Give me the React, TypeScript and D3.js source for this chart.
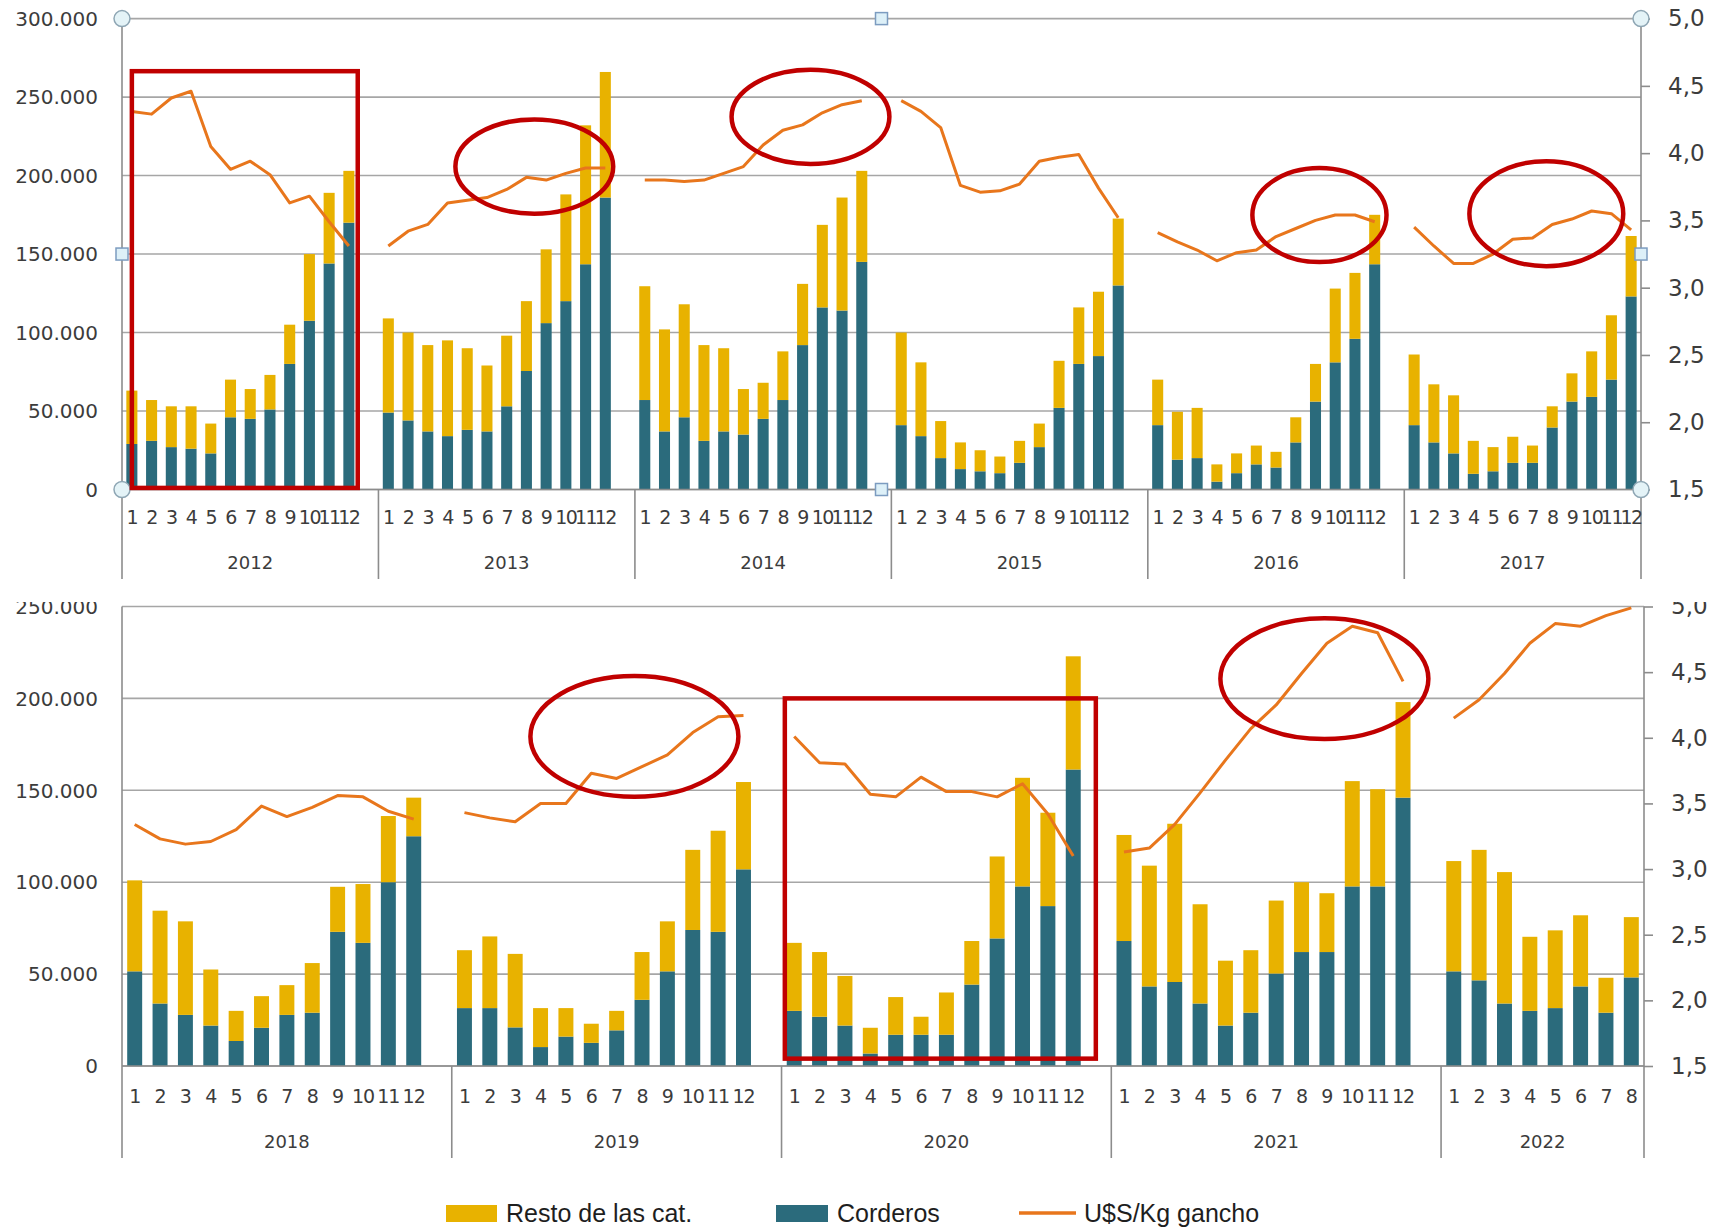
import React, { useEffect, useRef } from 'react';
import * as d3 from 'd3';

// Faena mensual de ovinos (cabezas) y precio U$S/Kg gancho

const topYears = ['2012', '2013', '2014', '2015', '2016', '2017'];
const bottomYears = ['2018', '2019', '2020', '2021', '2022'];
const topLastMonths = 12;
const bottomLastMonths = 8;

const corderosTop = [
  29000, 31000, 27000, 26000, 23000, 46000, 45000, 51000, 80000, 107500, 144000, 170000, // 2012
  49000, 44000, 37000, 34000, 38000, 37000, 53000, 75500, 106000, 120000, 143500, 186000, // 2013
  57000, 37000, 46000, 31000, 37000, 35000, 45000, 57000, 92000, 116000, 114000, 145000, // 2014
  41000, 34000, 20000, 13000, 11600, 10400, 17000, 27000, 52000, 80000, 85000, 130000, // 2015
  41000, 19000, 20000, 5000, 10400, 16000, 14000, 30000, 56000, 81000, 96000, 143500, // 2016
  41000, 30000, 23000, 10000, 11600, 17000, 17000, 39500, 56000, 59000, 70000, 123000, // 2017
];

const restoTop = [
  34000, 26000, 26000, 27000, 19000, 24000, 19000, 22000, 25000, 42500, 45000, 33000,
  60000, 56000, 55000, 61000, 52000, 42000, 45000, 44500, 47000, 68000, 88500, 80000,
  72500, 65000, 72000, 61000, 53000, 29000, 23000, 31000, 39000, 52600, 72000, 58000,
  59000, 47000, 23600, 17000, 13400, 10600, 14000, 15000, 30000, 36000, 41000, 42600,
  29000, 30500, 32000, 11000, 12600, 12000, 10000, 16000, 24000, 47000, 42000, 31500,
  45000, 37000, 37000, 21000, 15400, 16600, 11000, 13500, 18000, 29000, 41000, 38500,
];

const priceTop = [
  4.31, 4.29, 4.41, 4.46, 4.05, 3.88, 3.94, 3.84, 3.63, 3.68, 3.49, 3.31,
  3.31, 3.42, 3.47, 3.63, 3.65, 3.67, 3.73, 3.82, 3.80, 3.85, 3.89, 3.89,
  3.80, 3.80, 3.79, 3.80, 3.85, 3.90, 4.06, 4.17, 4.21, 4.30, 4.36, 4.39,
  4.39, 4.31, 4.19, 3.76, 3.71, 3.72, 3.77, 3.94, 3.97, 3.99, 3.74, 3.52,
  3.41, 3.34, 3.28, 3.20, 3.26, 3.28, 3.38, 3.44, 3.50, 3.54, 3.54, 3.49,
  3.45, 3.31, 3.18, 3.18, 3.25, 3.36, 3.37, 3.47, 3.51, 3.57, 3.55, 3.43,
];

const corderosBottom = [
  51500, 34000, 27800, 22000, 13600, 20800, 27800, 29000, 73000, 67000, 100000, 125000, // 2018
  31500, 31500, 21000, 10300, 16000, 12600, 19400, 36000, 51500, 74000, 73000, 107000, // 2019
  30000, 26800, 22000, 6800, 17000, 17000, 17000, 44300, 69400, 97700, 87000, 161300, // 2020
  68000, 43300, 45700, 34000, 22000, 29000, 50300, 62000, 62000, 97700, 97700, 146000, // 2021
  51500, 46600, 34000, 30000, 31500, 43300, 29000, 48200, // 2022
];

const restoBottom = [
  49500, 50500, 50900, 30500, 16400, 17200, 16200, 27000, 24500, 32000, 36000, 21000,
  31500, 39000, 40000, 21200, 15500, 10400, 10600, 26000, 27200, 43600, 55000, 47500,
  37000, 35200, 27000, 14000, 20500, 9800, 23000, 23700, 44600, 59100, 50800, 61600,
  57700, 65700, 86100, 54000, 35300, 34000, 39700, 38000, 32000, 57300, 52900, 52000,
  60000, 71000, 71500, 40300, 42300, 38700, 19000, 32800,
];

const priceBottom = [
  3.34, 3.23, 3.19, 3.21, 3.30, 3.48, 3.40, 3.47, 3.56, 3.55, 3.44, 3.38,
  3.43, 3.39, 3.36, 3.50, 3.50, 3.73, 3.69, 3.78, 3.87, 4.04, 4.16, 4.17,
  4.01, 3.81, 3.80, 3.57, 3.55, 3.70, 3.59, 3.59, 3.55, 3.65, 3.42, 3.10,
  3.13, 3.16, 3.34, 3.58, 3.83, 4.07, 4.25, 4.49, 4.72, 4.85, 4.80, 4.43,
  4.15, 4.29, 4.49, 4.72, 4.87, 4.85, 4.93, 4.99,
];

const leftTicksTop = [0, 50000, 100000, 150000, 200000, 250000, 300000];
const leftTicksBottom = [0, 50000, 100000, 150000, 200000, 250000];
const rightTicks = [1.5, 2.0, 2.5, 3.0, 3.5, 4.0, 4.5, 5.0];

const legendLabels = ['Resto de las cat.', 'Corderos', 'U$S/Kg gancho'];

// red marks drawn over the chart (month position, price / head count)
const topEllipses = [
  { year: '2013', month: 8.4, price: 3.9, rx: 4.0, ry: 0.35 },
  { year: '2014', month: 9.4, price: 4.27, rx: 4.0, ry: 0.35 },
  { year: '2016', month: 9.2, price: 3.54, rx: 3.4, ry: 0.35 },
  { year: '2017', month: 7.7, price: 3.55, rx: 3.9, ry: 0.39 },
];
const topBoxes = [{ year: '2012', from: 1.0, to: 12.45, hi: 266500, lo: 1000 }];
const bottomEllipses = [
  { year: '2019', month: 7.7, price: 4.01, rx: 4.1, ry: 0.46 },
  { year: '2021', month: 8.9, price: 4.45, rx: 4.1, ry: 0.46 },
];
const bottomBoxes = [{ year: '2020', from: 0.63, to: 12.89, hi: 200000, lo: 4000 }];

const GOLD = '#E8B200';
const TEAL = '#2B6B7C';
const ORANGE = '#E8761C';
const RED = '#C00000';
const GRID = '#A6A6A6';
const AXIS = '#8C8C8C';
const TXT = '#3C3C3C';
const FONT = "'DejaVu Sans', Verdana, sans-serif";

const fmtLeft = d3.formatLocale({ decimal: ',', thousands: '.', grouping: [3], currency: ['', ''] }).format(',');
const fmtRight = (v: number) => d3.format('.1f')(v).replace('.', ',');

type Panel = {
  id: string;
  years: string[];
  lastMonths: number;
  corderos: number[];
  resto: number[];
  price: number[];
  leftTicks: number[];
  left: number; right: number; top: number; bottom: number;
  monthY: number; yearY: number; sepBottom: number;
  barFrac: number;
  monthSpacing: number;
  clipTop?: number;
  handles?: boolean;
  ellipses: typeof topEllipses;
  boxes: typeof topBoxes;
};

function drawPanel(svg: d3.Selection<SVGSVGElement, unknown, null, undefined>, p: Panel) {
  const g = svg.append('g');
  if (p.clipTop !== undefined) {
    svg.append('defs').append('clipPath').attr('id', `clip-${p.id}`)
      .append('rect').attr('x', 0).attr('y', p.clipTop).attr('width', 1713).attr('height', 1228 - p.clipTop);
    g.attr('clip-path', `url(#clip-${p.id})`);
  }

  // slots: 12 months + one empty slot after every year except the last
  const slots: string[] = [];
  const rows: { key: string; year: string; month: number; corderos: number; resto: number; price: number }[] = [];
  let k = 0;
  p.years.forEach((yr, i) => {
    const last = i === p.years.length - 1;
    const n = last ? p.lastMonths : 12;
    for (let m = 1; m <= n; m++) {
      const key = `${yr}-${m}`;
      slots.push(key);
      rows.push({ key, year: yr, month: m, corderos: p.corderos[k], resto: p.resto[k], price: p.price[k] });
      k++;
    }
    if (!last) slots.push(`${yr}-gap`);
  });

  const x = d3.scaleBand().domain(slots).range([p.left, p.right]).padding(0);
  const yL = d3.scaleLinear().domain([0, p.leftTicks[p.leftTicks.length - 1]]).range([p.bottom, p.top]);
  const yR = d3.scaleLinear().domain([1.5, 5]).range([p.bottom, p.top]);
  const step = x.step();
  const xAt = (year: string, month: number) => (x(`${year}-1`) as number) + (month - 0.5) * step;

  // gridlines
  g.selectAll('line.grid').data(p.leftTicks).join('line')
    .attr('x1', p.left).attr('x2', p.right)
    .attr('y1', d => yL(d)).attr('y2', d => yL(d))
    .attr('stroke', GRID).attr('stroke-width', 1.6);

  // left labels
  g.selectAll('text.left').data(p.leftTicks).join('text')
    .attr('x', p.left - 24).attr('y', d => yL(d)).attr('dy', '0.36em')
    .attr('text-anchor', 'end').attr('font-family', FONT).attr('font-size', 20).attr('fill', TXT)
    .text(d => fmtLeft(d));

  // right axis
  const ra = g.append('g').attr('transform', `translate(${p.right},0)`)
    .call(d3.axisRight(yR).tickValues(rightTicks).tickSize(9).tickSizeOuter(0).tickPadding(18).tickFormat(d => fmtRight(d as number)));
  ra.select('.domain').remove();
  ra.selectAll('.tick line').attr('stroke', AXIS).attr('stroke-width', 1.6);
  ra.selectAll('.tick text').attr('font-family', FONT).attr('font-size', 23).attr('fill', TXT);

  // stacked bars
  const stack = d3.stack<any>().keys(['corderos', 'resto'])(rows);
  const bw = step * p.barFrac;
  g.selectAll('g.layer').data(stack).join('g')
    .attr('fill', (_d, i) => (i === 0 ? TEAL : GOLD))
    .selectAll('rect').data(d => d).join('rect')
    .attr('x', d => (x(d.data.key) as number) + (step - bw) / 2)
    .attr('y', d => yL(d[1]))
    .attr('width', bw)
    .attr('height', d => yL(d[0]) - yL(d[1]));

  // axis lines and year separators
  g.append('line').attr('x1', p.left).attr('x2', p.right).attr('y1', p.bottom).attr('y2', p.bottom)
    .attr('stroke', AXIS).attr('stroke-width', 1.6);
  const bounds = p.years.map(yr => x(`${yr}-1`) as number).concat([p.right]);
  g.selectAll('line.sep').data(bounds).join('line')
    .attr('x1', d => d).attr('x2', d => d)
    .attr('y1', (_d, i) => (i === 0 || i === bounds.length - 1 ? p.top : p.bottom))
    .attr('y2', p.sepBottom)
    .attr('stroke', AXIS).attr('stroke-width', 1.6);

  // price line, broken between years
  const lineData = slots.map(s => rows.find(r => r.key === s) || null);
  const line = d3.line<any>()
    .defined(d => d !== null)
    .x(d => (x(d.key) as number) + step / 2)
    .y(d => yR(d.price));
  g.append('path').datum(lineData)
    .attr('fill', 'none').attr('stroke', ORANGE).attr('stroke-width', 3).attr('stroke-linejoin', 'round')
    .attr('d', line);

  // month and year labels
  g.selectAll('text.month').data(rows).join('text')
    .attr('x', d => (x(d.key) as number) + step / 2).attr('y', p.monthY).attr('dy', '0.36em')
    .attr('text-anchor', 'middle').attr('font-family', FONT).attr('font-size', 19).attr('fill', TXT)
    .attr('letter-spacing', p.monthSpacing)
    .text(d => d.month);
  g.selectAll('text.year').data(p.years).join('text')
    .attr('x', (_d, i) => (bounds[i] + bounds[i + 1]) / 2).attr('y', p.yearY).attr('dy', '0.36em')
    .attr('text-anchor', 'middle').attr('font-family', FONT).attr('font-size', 18).attr('fill', TXT)
    .text(d => d);

  // selection handles
  if (p.handles) {
    const mx = (p.left + p.right) / 2;
    const my = (p.top + p.bottom) / 2;
    const circles = [[p.left, p.top], [p.right, p.top], [p.left, p.bottom], [p.right, p.bottom]];
    const squares = [[mx, p.top], [mx, p.bottom], [p.left, my], [p.right, my]];
    g.selectAll('circle.h').data(circles).join('circle')
      .attr('cx', d => d[0]).attr('cy', d => d[1]).attr('r', 8)
      .attr('fill', '#E4F3F7').attr('stroke', '#8EA6B4').attr('stroke-width', 1.5);
    g.selectAll('rect.h').data(squares).join('rect')
      .attr('x', d => d[0] - 6).attr('y', d => d[1] - 6).attr('width', 12).attr('height', 12)
      .attr('fill', '#DDF0F8').attr('stroke', '#7C9CC0').attr('stroke-width', 1.5);
  }

  // red annotations
  g.selectAll('ellipse.note').data(p.ellipses).join('ellipse')
    .attr('cx', d => xAt(d.year, d.month)).attr('cy', d => yR(d.price))
    .attr('rx', d => d.rx * step).attr('ry', d => yR(d.price) - yR(d.price + d.ry))
    .attr('fill', 'none').attr('stroke', RED).attr('stroke-width', 4.5);
  g.selectAll('rect.note').data(p.boxes).join('rect')
    .attr('x', d => xAt(d.year, d.from)).attr('y', d => yL(d.hi))
    .attr('width', d => xAt(d.year, d.to) - xAt(d.year, d.from))
    .attr('height', d => yL(d.lo) - yL(d.hi))
    .attr('fill', 'none').attr('stroke', RED).attr('stroke-width', 4.5);
}

const App = () => {
  const svgRef = useRef<SVGSVGElement>(null);

  useEffect(() => {
    const svg = d3.select(svgRef.current as SVGSVGElement);
    svg.selectAll('*').remove();

    drawPanel(svg, {
      id: 'top', years: topYears, lastMonths: topLastMonths,
      corderos: corderosTop, resto: restoTop, price: priceTop, leftTicks: leftTicksTop,
      left: 122, right: 1641, top: 18.6, bottom: 489.5,
      monthY: 517, yearY: 563, sepBottom: 579, barFrac: 0.56, monthSpacing: -1.5, handles: true,
      ellipses: topEllipses, boxes: topBoxes,
    });

    drawPanel(svg, {
      id: 'bottom', years: bottomYears, lastMonths: bottomLastMonths,
      corderos: corderosBottom, resto: restoBottom, price: priceBottom, leftTicks: leftTicksBottom,
      left: 122, right: 1644, top: 606.5, bottom: 1066,
      monthY: 1096, yearY: 1142, sepBottom: 1158, barFrac: 0.59, monthSpacing: -1, clipTop: 602,
      ellipses: bottomEllipses, boxes: bottomBoxes,
    });

    // legend
    const legend = svg.append('g').attr('font-family', "'Liberation Sans', Arial, sans-serif").attr('font-size', 25).attr('fill', '#1e1e1e');
    legend.append('rect').attr('x', 446).attr('y', 1205).attr('width', 51).attr('height', 17).attr('fill', GOLD);
    legend.append('text').attr('x', 506).attr('y', 1213).attr('dy', '0.36em').text(legendLabels[0]);
    legend.append('rect').attr('x', 776).attr('y', 1205).attr('width', 52).attr('height', 17).attr('fill', TEAL);
    legend.append('text').attr('x', 837).attr('y', 1213).attr('dy', '0.36em').text(legendLabels[1]);
    legend.append('line').attr('x1', 1019).attr('x2', 1076).attr('y1', 1213).attr('y2', 1213)
      .attr('stroke', ORANGE).attr('stroke-width', 3.5);
    legend.append('text').attr('x', 1084).attr('y', 1213).attr('dy', '0.36em').text(legendLabels[2]);
  }, []);

  return (
    <svg ref={svgRef} width={1713} height={1228}
      style={{ position: 'absolute', left: 0, top: 0, background: '#fff', display: 'block' }} />
  );
};

export default App;
